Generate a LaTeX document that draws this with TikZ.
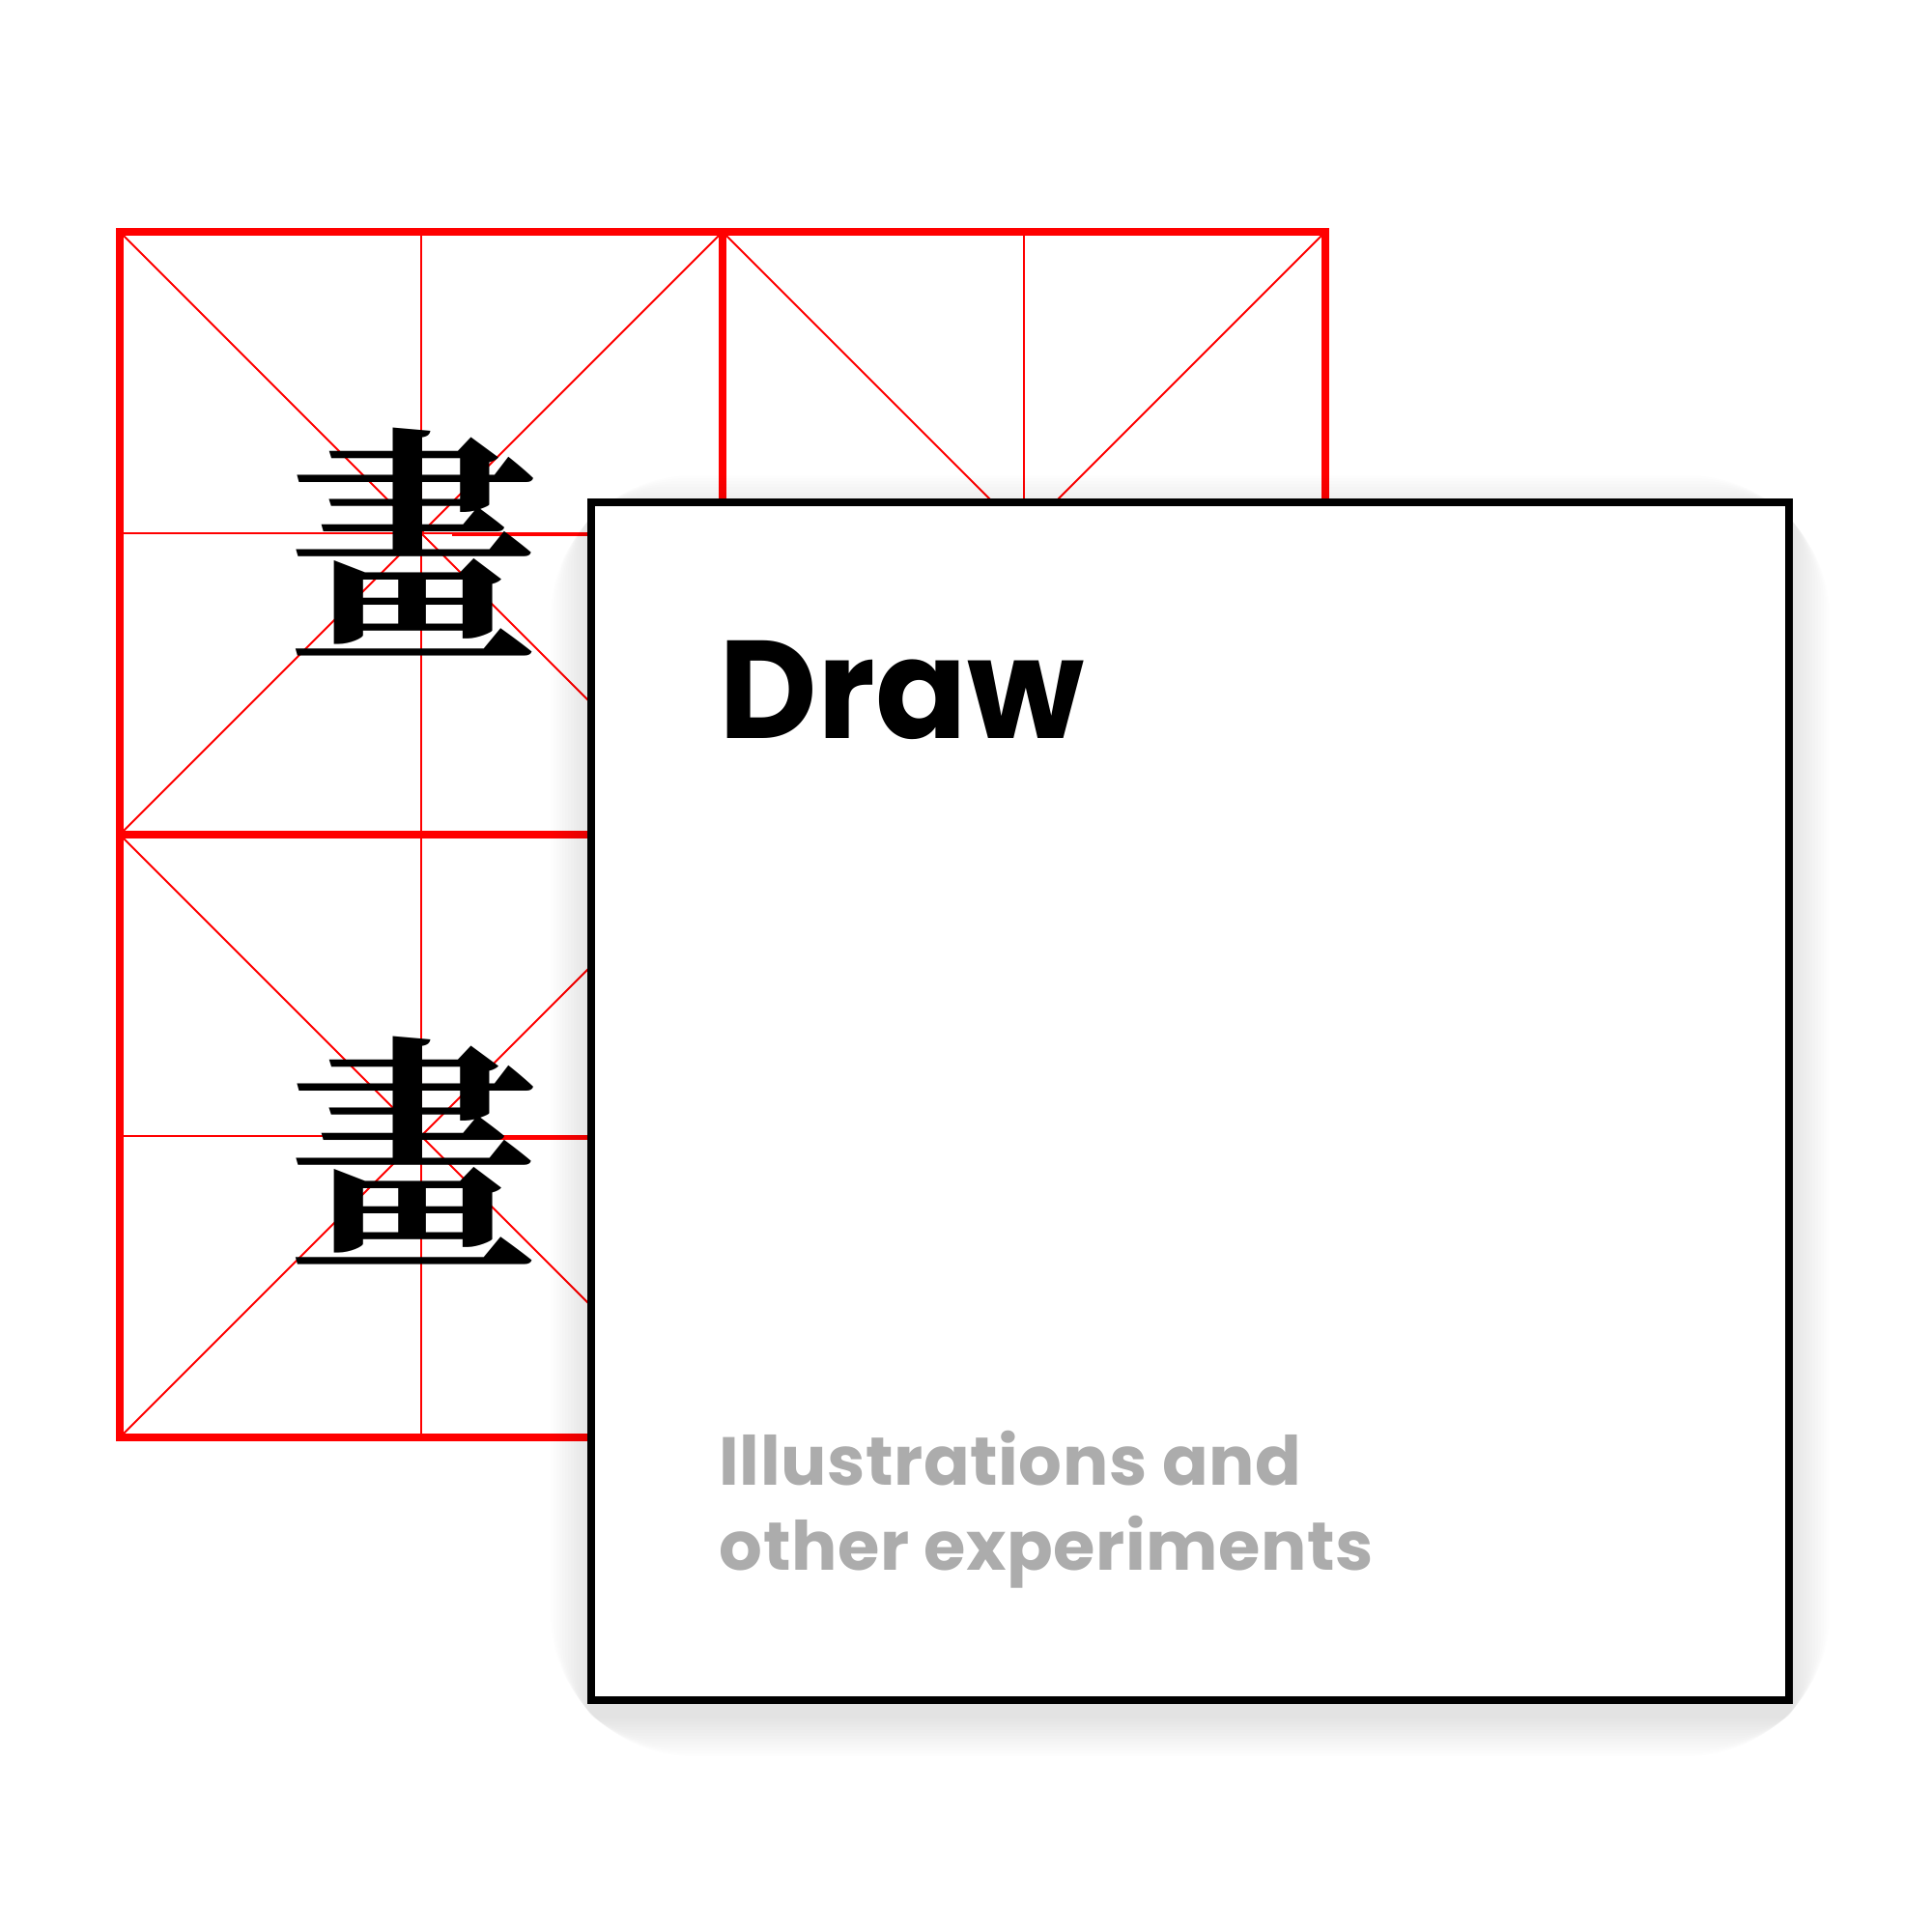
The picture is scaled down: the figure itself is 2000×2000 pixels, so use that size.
\documentclass[tikz,border=0pt]{standalone}
\usepackage{fontspec}
\newfontfamily\cjkfont{Noto Serif CJK TC}
\newfontfamily\popfont{Poppins}
\newfontfamily\popspaced[LetterSpace=0.8]{Poppins}
\definecolor{gridred}{RGB}{255,0,0}
\definecolor{subgray}{RGB}{172,172,172}
\tikzset{
  thinred/.style={draw=gridred, line width=0.57pt},
  thickred/.style={draw=gridred, line width=2.28pt},
  midred/.style={draw=gridred, line width=1.14pt},
  glyph/.style={inner sep=0pt, anchor=base west, font=\cjkfont\bfseries\fontsize{74}{74}\selectfont},
  cardbox/.style={draw=black, fill=white, line width=2.19pt},
  titletext/.style={inner sep=0pt, anchor=base west, xscale=0.97, transform shape, font=\popfont\bfseries\fontsize{41}{41}\selectfont},
  subtext/.style={inner sep=0pt, anchor=base west, text=subgray, font=\popspaced\bfseries\fontsize{20}{20}\selectfont},
}
\begin{document}
\begin{tikzpicture}[x=0.01cm,y=-0.01cm]
\useasboundingbox[fill=white] (0,0) rectangle (2000,2000);
% grid coordinates
\coordinate (tl) at (124,240);
\coordinate (tm) at (748,240);
\coordinate (tr) at (1372,240);
\coordinate (ml) at (124,864);
\coordinate (mm) at (748,864);
\coordinate (mr) at (1372,864);
\coordinate (bl) at (124,1488);
\coordinate (bm) at (748,1488);
\coordinate (br) at (1372,1488);
% thin lines
\draw[thinred] (436,240) -- (436,1488);
\draw[thinred] (1060,240) -- (1060,864);
\draw[thinred] (124,552) -- (1372,552);
\draw[thinred] (124,1176) -- (748,1176);
\draw[thinred] (tl) -- (mm);
\draw[thinred] (tm) -- (ml);
\draw[thinred] (tm) -- (mr);
\draw[thinred] (tr) -- (mm);
\draw[thinred] (ml) -- (bm);
\draw[thinred] (mm) -- (bl);
\draw[midred] (468,553) -- (612,553);
\draw[midred] (468,1178) -- (612,1178);
% thick lines
\draw[thickred] (tl) rectangle (br);
\draw[thickred] (tm) -- (bm);
\draw[thickred] (ml) -- (mr);
% glyphs
\node[glyph] (g1) at (298,664) {畫};
\node[glyph] (g2) at (298,1294) {畫};
% shadow
\foreach \i in {1,...,14}{
  \fill[black, opacity=0.008, rounded corners=\i*3] (612-\i*3,534-\i*3) rectangle (1852+\i*3,1776+\i*3);
}
% card
\draw[cardbox] (612,520) rectangle (1852,1760);
\node[titletext] (title) at (744,764) {Draw};
\node[subtext] (sub1) at (744,1537) {Illustrations and};
\node[subtext] (sub2) at (744,1625) {other experiments};
\end{tikzpicture}
\end{document}
